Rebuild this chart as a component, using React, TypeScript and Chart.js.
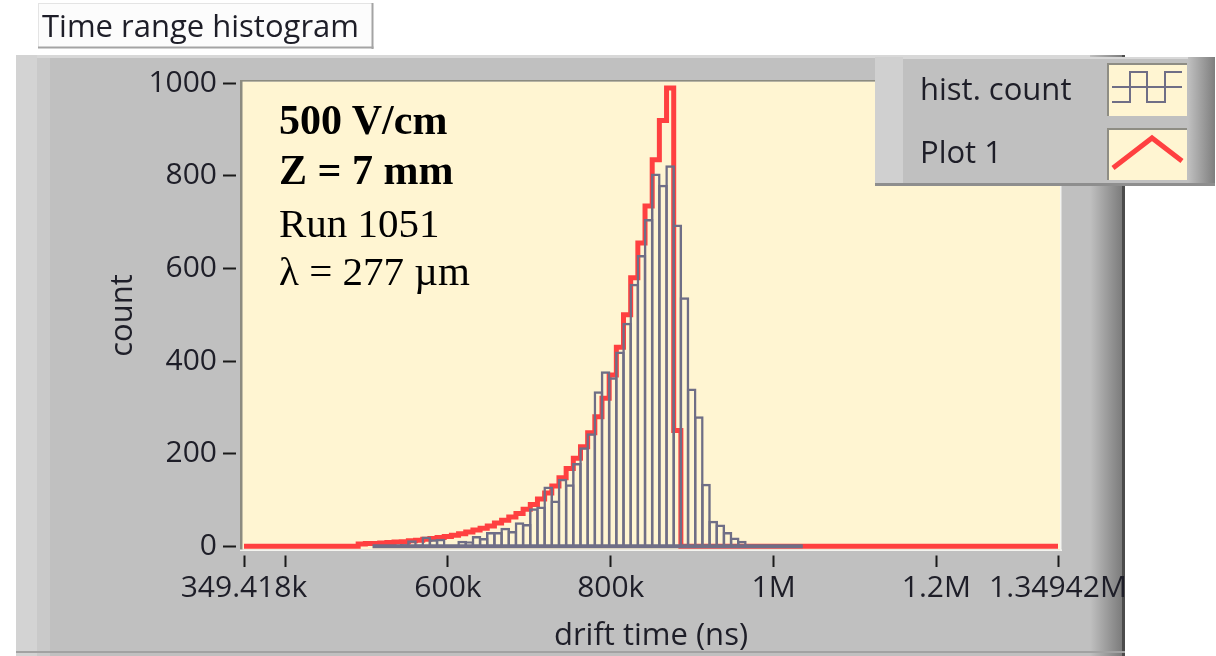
import React, { useEffect, useRef } from 'react';
import { Chart, registerables } from 'chart.js';

Chart.register(...registerables);

// Histogram binning (drift time in ns)
const HIST_START_NS = 507300;
const BIN_WIDTH_NS = 8810;

// hist. count : entries per bin, bins 0..59
const histCounts = [
  0, 0, 1, 0, 5, 13, 4, 21, 15, 16,
  2, 3, 12, 11, 22, 18, 31, 31, 40, 33,
  52, 48, 82, 86, 129, 99, 146, 134, 180, 214,
  244, 335, 378, 365, 421, 483, 567, 629, 707, 805,
  781, 823, 695, 538, 341, 281, 135, 55, 47, 31,
  19, 12, 3, 1, 0, 0, 0, 0, 0, 0,
];

// Plot 1 : fitted curve per bin, starting two bins before the histogram (bins -2..42)
const FIT_FIRST_BIN = -2;
const fitCounts = [
  5, 6, 6, 7, 8, 9, 10, 12, 13, 15,
  17, 19, 21, 24, 27, 31, 35, 39, 44, 50,
  56, 63, 71, 80, 90, 102, 115, 130, 148, 168,
  190, 215, 245, 280, 320, 370, 430, 500, 580, 655,
  735, 835, 920, 990, 250,
];

// Axes
const X_MIN_NS = 349418;
const X_MAX_NS = 1349420;
const xTickValues = [349418, 400000, 600000, 800000, 1000000, 1200000, 1349420];
const xTickLabels = ['349.418k', '', '600k', '800k', '1M', '1.2M', '1.34942M'];
const Y_MIN = -7;
const Y_MAX = 1004;
const yTickValues = [0, 200, 400, 600, 800, 1000];

const infoLines = [
  { text: '500 V/cm', bold: true },
  { text: 'Z = 7 mm', bold: true },
  { text: 'Run 1051', bold: false },
  { text: 'λ = 277 µm', bold: false },
];
const legendLabels = ['hist. count', 'Plot 1'];

const UI_FONT = '"Open Sans", "Noto Sans", sans-serif';
const SERIF_FONT = '"Liberation Serif", "Times New Roman", serif';
const CREAM = '#fff5d2';
const HIST_COLOR = '#6f6e86';
const FIT_COLOR = '#ff4040';
const TEXT_COLOR = '#1e1e28';
const HIST_EDGE = 2.5;

// Cream plotting panel with a sunken edge behind the data
const plotPanel = {
  id: 'plotPanel',
  beforeDraw(chart: any) {
    const { ctx, chartArea } = chart;
    const { left, top, right, bottom } = chartArea;
    ctx.save();
    ctx.fillStyle = CREAM;
    ctx.fillRect(left - 2, top, right - left + 4, bottom - top);
    ctx.fillStyle = '#8c8b80';
    ctx.fillRect(left - 4, top - 1.5, 2.5, bottom - top + 3);
    ctx.fillRect(left - 4, top - 1.5, right - left + 8, 1.5);
    ctx.fillStyle = '#f4f4f0';
    ctx.fillRect(left - 4, bottom, right - left + 8, 1.5);
    ctx.fillRect(right + 2, top - 1.5, 1.5, bottom - top + 3);
    ctx.restore();
  },
};

function HistogramChart() {
  const canvasRef = useRef<HTMLCanvasElement | null>(null);

  useEffect(() => {
    const canvas = canvasRef.current;
    if (!canvas) return;

    const barPoints = histCounts.map((c, i) => ({
      x: HIST_START_NS + (i + 0.5) * BIN_WIDTH_NS,
      y: c,
    }));

    const histEnd = HIST_START_NS + histCounts.length * BIN_WIDTH_NS;
    const baseline = [
      { x: HIST_START_NS, y: 0 },
      { x: histEnd, y: 0 },
    ];

    const fitPoints = [{ x: X_MIN_NS, y: 0 }];
    fitCounts.forEach((c, k) => {
      fitPoints.push({ x: HIST_START_NS + (FIT_FIRST_BIN + k) * BIN_WIDTH_NS, y: c });
    });
    fitPoints.push({
      x: HIST_START_NS + (FIT_FIRST_BIN + fitCounts.length) * BIN_WIDTH_NS,
      y: 0,
    });
    fitPoints.push({ x: X_MAX_NS, y: 0 });

    const tickFont = { family: UI_FONT, size: 30 };
    const titleFont = { family: UI_FONT, size: 31 };

    // outlines of neighbouring bins overlap so shared edges keep one stroke width
    const binPx = 7.17;

    const chart = new Chart(canvas, {
      type: 'line',
      data: {
        datasets: [
          {
            type: 'line',
            label: 'hist. count baseline',
            data: baseline,
            borderColor: HIST_COLOR,
            borderWidth: 4,
            pointRadius: 0,
            order: 0,
          },
          {
            type: 'bar',
            label: 'hist. count',
            data: barPoints,
            backgroundColor: 'rgba(0,0,0,0)',
            borderColor: HIST_COLOR,
            borderWidth: HIST_EDGE,
            borderSkipped: 'start',
            barPercentage: (binPx + HIST_EDGE) / binPx,
            categoryPercentage: 1,
            order: 1,
          },
          {
            type: 'line',
            label: 'Plot 1',
            data: fitPoints,
            stepped: 'before',
            borderColor: FIT_COLOR,
            borderWidth: 5,
            pointRadius: 0,
            fill: false,
            order: 2,
          },
        ],
      } as any,
      options: {
        animation: false,
        responsive: false,
        devicePixelRatio: 1,
        events: [],
        layout: {
          padding: { left: 0, top: 81.5, right: 1216 - 1058, bottom: 0 },
        },
        plugins: {
          legend: { display: false },
          tooltip: { enabled: false },
        },
        scales: {
          x: {
            type: 'linear',
            position: 'bottom',
            min: X_MIN_NS,
            max: X_MAX_NS,
            offset: false,
            afterBuildTicks: (scale: any) => {
              scale.ticks = xTickValues.map((v) => ({ value: v }));
            },
            afterFit: (scale: any) => {
              scale.height = 106.5;
            },
            ticks: {
              autoSkip: false,
              maxRotation: 0,
              minRotation: 0,
              padding: 3,
              color: TEXT_COLOR,
              font: tickFont,
              callback: (_v: any, i: number) => xTickLabels[i],
            },
            grid: {
              offset: false,
              drawOnChartArea: false,
              drawTicks: true,
              tickLength: 17.5,
              tickWidth: 2,
              tickColor: '#1a1a1a',
              tickBorderDash: [0, 5.5, 12, 100],
            },
            border: { display: false },
            title: {
              display: true,
              text: 'drift time (ns)',
              color: TEXT_COLOR,
              font: titleFont,
              padding: { top: 0, bottom: 1.5 },
            },
          },
          y: {
            type: 'linear',
            position: 'left',
            min: Y_MIN,
            max: Y_MAX,
            afterBuildTicks: (scale: any) => {
              scale.ticks = yTickValues.map((v) => ({ value: v }));
            },
            afterFit: (scale: any) => {
              scale.width = 244;
            },
            ticks: {
              padding: 6,
              color: TEXT_COLOR,
              font: tickFont,
              callback: (v: any) => String(v),
            },
            grid: {
              drawOnChartArea: false,
              drawTicks: true,
              tickLength: 21,
              tickWidth: 2,
              tickColor: '#1a1a1a',
              tickBorderDash: [13, 100],
            },
            border: { display: false },
            title: {
              display: true,
              text: 'count',
              color: TEXT_COLOR,
              font: titleFont,
              padding: { top: 105, bottom: 0 },
            },
          },
        },
      } as any,
      plugins: [plotPanel],
    });

    return () => chart.destroy();
  }, []);

  return (
    <canvas
      ref={canvasRef}
      width={1216}
      height={656}
      style={{ position: 'absolute', left: 0, top: 0, width: 1216, height: 656 }}
    />
  );
}

// Grey panel that holds the graph
function PanelBackground() {
  return (
    <svg
      width={1216}
      height={656}
      style={{ position: 'absolute', left: 0, top: 0 }}
    >
      <defs>
        <linearGradient id="frameRight" x1="0" x2="1" y1="0" y2="0">
          <stop offset="0" stopColor="#c0c0c0" />
          <stop offset="1" stopColor="#7c7c7c" />
        </linearGradient>
      </defs>
      <rect x={0} y={0} width={1216} height={656} fill="#ffffff" />
      <rect x={16} y={55} width={1109} height={601} fill="#c0c0c0" />
      <rect x={16} y={55} width={1109} height={3} fill="#d8d8d8" />
      <rect x={16} y={55} width={21} height={601} fill="#d3d3d3" />
      <rect x={37} y={58} width={13} height={598} fill="#c9c9c9" />
      <rect x={1090} y={55} width={32} height={601} fill="url(#frameRight)" />
      <rect x={1122} y={55} width={3} height={601} fill="#4c4c4c" />
      <rect x={16} y={651} width={1109} height={2} fill="#a2a2a2" />
    </svg>
  );
}

// Caption label, legend box and annotation text drawn above the graph
function Overlay() {
  const baselines = [134, 183.5, 236.5, 285];
  return (
    <svg
      width={1216}
      height={656}
      style={{ position: 'absolute', left: 0, top: 0, pointerEvents: 'none' }}
    >
      <defs>
        <linearGradient id="legendRight" x1="0" x2="1" y1="0" y2="0">
          <stop offset="0" stopColor="#c0c0c0" />
          <stop offset="1" stopColor="#7e7e7e" />
        </linearGradient>
      </defs>

      {/* caption */}
      <rect x={38} y={3} width={335} height={45} fill="#fcfcfc" />
      <rect x={38} y={3} width={335} height={1} fill="#e4e4e4" />
      <rect x={38} y={3} width={1} height={45} fill="#e4e4e4" />
      <rect x={371.5} y={3} width={2} height={46} fill="#a4a4a4" />
      <rect x={38} y={46.5} width={335.5} height={2} fill="#a4a4a4" />
      <text x={42} y={36.5} fontFamily={UI_FONT} fontSize={31} fill={TEXT_COLOR}>
        Time range histogram
      </text>

      {/* annotation */}
      {infoLines.map((ln, i) => (
        <text
          key={ln.text}
          x={279}
          y={baselines[i]}
          fontFamily={SERIF_FONT}
          fontSize={ln.bold ? 42 : 41}
          fontWeight={ln.bold ? 700 : 400}
          fill="#000000"
        >
          {ln.text}
        </text>
      ))}

      {/* legend */}
      <rect x={875} y={57} width={340} height={129} fill="#c0c0c0" />
      <rect x={875} y={57} width={340} height={2} fill="#d8d8d8" />
      <rect x={875} y={57} width={28} height={129} fill="#d0d0d0" />
      <rect x={1188} y={57} width={27} height={129} fill="url(#legendRight)" />
      <rect x={875} y={183} width={340} height={3} fill="#8e8e8e" />

      <rect x={1107} y={63} width={80} height={53} fill={CREAM} />
      <rect x={1107} y={63} width={80} height={2} fill="#8e8d84" />
      <rect x={1107} y={63} width={2} height={53} fill="#8e8d84" />
      <path
        d="M1112 87 H1182 M1112 102 H1130 V72 H1147 V102 H1165 V72 H1182"
        stroke={HIST_COLOR}
        strokeWidth={2}
        fill="none"
      />

      <rect x={1107} y={128} width={80} height={52} fill={CREAM} />
      <rect x={1107} y={128} width={80} height={2} fill="#8e8d84" />
      <rect x={1107} y={128} width={2} height={52} fill="#8e8d84" />
      <path
        d="M1113 168 L1152 138 L1182 161"
        stroke={FIT_COLOR}
        strokeWidth={5}
        fill="none"
      />

      <text x={920} y={100} fontFamily={UI_FONT} fontSize={31} fill={TEXT_COLOR}>
        {legendLabels[0]}
      </text>
      <text x={920} y={163} fontFamily={UI_FONT} fontSize={31} fill={TEXT_COLOR}>
        {legendLabels[1]}
      </text>
    </svg>
  );
}

export default function App() {
  return (
    <div
      style={{
        position: 'absolute',
        left: 0,
        top: 0,
        width: 1216,
        height: 656,
        overflow: 'hidden',
        background: '#ffffff',
      }}
    >
      <PanelBackground />
      <HistogramChart />
      <Overlay />
    </div>
  );
}
